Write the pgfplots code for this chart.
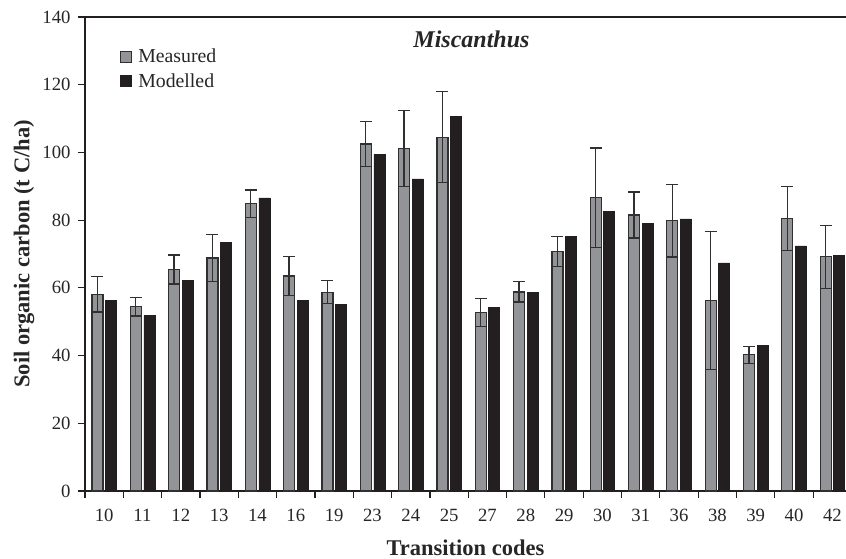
\documentclass[border=0pt]{standalone}
\usepackage{pgfplots}
\pgfplotsset{compat=1.18}
\usepackage{pgfplotstable}
\usepackage{fontspec}
\setmainfont{Liberation Serif}
\definecolor{meas}{HTML}{939498}
\definecolor{modc}{HTML}{231F20}
\definecolor{edgec}{HTML}{303030}

\pgfplotstableread{
x code meas err mod
0  10 58.1 5.2 56.3
1  11 54.4 2.7 51.8
2  12 65.4 4.3 62.2
3  13 68.8 7.0 73.4
4  14 84.8 4.1 86.6
5  16 63.5 5.8 56.3
6  19 58.7 3.4 55.1
7  23 102.5 6.6 99.5
8  24 101.1 11.2 92.2
9  25 104.5 13.4 110.7
10 27 52.7 4.1 54.2
11 28 58.8 3.0 58.6
12 29 70.8 4.4 75.2
13 30 86.6 14.7 82.6
14 31 81.5 6.8 79.1
15 36 79.8 10.7 80.4
16 38 56.2 20.4 67.4
17 39 40.2 2.5 43.0
18 40 80.5 9.5 72.4
19 42 69.2 9.3 69.7
}\data

\begin{document}
\begin{tikzpicture}
\useasboundingbox (-85bp,-68bp) rectangle (761bp,491bp);
\begin{axis}[
  scale only axis, width=761bp, height=474bp,
  xmin=-0.5, xmax=19.355, ymin=0, ymax=140,
  axis x line*=box, axis y line*=left,
  axis line style={line width=1.3bp, draw=modc},
  ybar, bar width=11bp,
  ytick={0,20,...,140},
  xtick={-0.5,0.5,...,19.5}, xticklabels={},
  extra x ticks={0,...,19},
  extra x tick labels={10,11,12,13,14,16,19,23,24,25,27,28,29,30,31,36,38,39,40,42},
  extra x tick style={major tick length=0pt, tick label style={anchor=base, yshift=-30bp}},
  tick align=outside, tick pos=left,
  major tick length=7bp,
  tick style={line width=1.1bp, draw=modc},
  /pgf/number format/assume math mode=true,
  tick label style={font=\fontsize{18.7bp}{22bp}\selectfont, text=black!85},
  yticklabel style={xshift=-4bp},
  xlabel={Transition codes},
  ylabel={Soil organic carbon (t C/ha)},
  xlabel style={font=\fontsize{22.5bp}{26bp}\selectfont\bfseries, text=black!85, at={(axis description cs:0.5,0)}, anchor=base, yshift=-64bp},
  ylabel style={font=\fontsize{22.5bp}{26bp}\selectfont\bfseries, text=black!85, at={(axis description cs:0,0.5)}, anchor=center, yshift=61bp},
  legend style={at={(32bp,445bp)}, anchor=north west, draw=none, fill=none,
    font=\fontsize{19.8bp}{24bp}\selectfont, text=black!85, row sep=7bp,
    nodes={inner sep=1bp}},
  legend cell align=left,
  legend image code/.code={\draw[#1, line width=1bp] (0bp,-5.5bp) rectangle (11bp,5.5bp); \path (16bp,0);},
  clip=true,
]
\addplot[fill=meas, draw=edgec, line width=1.2bp, bar shift=-6.7bp,
  error bars/.cd, y dir=both, y explicit,
  error mark=-,
  error bar style={line width=1.3bp, draw=edgec},
  error mark options={rotate=90, mark size=6bp, line width=1.3bp, draw=edgec}]
  table[x=x, y=meas, y error=err] {\data};
\addlegendentry{Measured}
\addplot[fill=modc, draw=modc, line width=0.5bp, bar shift=6.8bp]
  table[x=x, y=mod] {\data};
\addlegendentry{Modelled}
\end{axis}
\node[anchor=base, font=\fontsize{24bp}{28bp}\selectfont\bfseries\itshape, text=black!85] at (386.5bp,443bp) {Miscanthus};
\end{tikzpicture}
\end{document}
